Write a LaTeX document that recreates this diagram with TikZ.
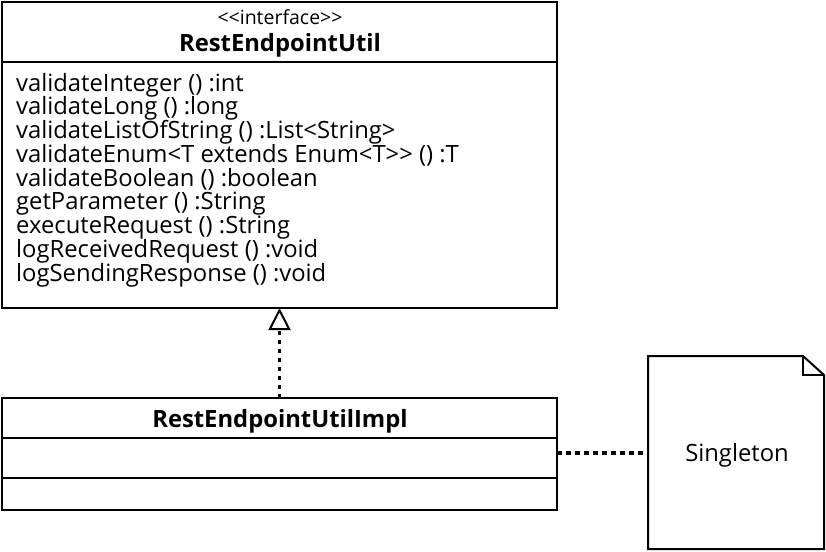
\documentclass[tikz,border=0pt]{standalone}
\usepackage{fontspec}
\setmainfont{Open Sans}
\usetikzlibrary{arrows.meta}
\begin{document}
\begin{tikzpicture}[x=1pt,y=-1pt,
  umlbox/.style={draw,line width=2pt,rectangle,inner sep=0pt,outer sep=0pt,anchor=north west},
  divider/.style={line width=2pt},
  methodtext/.style={anchor=base west,inner sep=0pt,font=\fontsize{23.8}{24}\selectfont},
  titletext/.style={anchor=base,inner sep=0pt,font=\bfseries\fontsize{23.8}{24}\selectfont},
  stereotext/.style={anchor=base,inner sep=0pt,font=\fontsize{19.5}{20}\selectfont},
  dotline/.style={line width=3.5pt,dash pattern=on 4.5pt off 4.5pt}]
\useasboundingbox (0,0) rectangle (826,551);
% interface box
\node[umlbox,minimum width=555pt,minimum height=306pt] (iface) at (2,2) {};
\coordinate (ifdiv) at (2,62);
\draw[divider] (ifdiv) -- (ifdiv -| iface.east);
\node[stereotext] (stereo) at (280,25) {<{}<interface>{}>};
\node[titletext] (ititle) at (280,52) {RestEndpointUtil};
\foreach \t [count=\i] in {validateInteger () :int,validateLong () :long,validateListOfString () :List<String>,validateEnum<T extends Enum<T>{}> () :T,validateBoolean () :boolean,getParameter () :String,executeRequest () :String,logReceivedRequest () :void,logSendingResponse () :void}
  \node[methodtext] (m\i) at (16,{91+23.75*(\i-1)}) {\t};
% implementation box
\node[umlbox,minimum width=555pt,minimum height=112pt] (impl) at (2,398) {};
\coordinate (imdivA) at (2,438);
\coordinate (imdivB) at (2,478);
\draw[divider] (imdivA) -- (imdivA -| impl.east);
\draw[divider] (imdivB) -- (imdivB -| impl.east);
\node[titletext] (ptitle) at (280,427) {RestEndpointUtilImpl};
% note
\node[inner sep=0pt,outer sep=0pt,minimum width=176pt,minimum height=193pt,anchor=north west] (note) at (648,356) {};
\draw[line width=2pt,line join=miter]
  (note.south west) -- (note.north west) -- ([xshift=-21pt]note.north east)
  -- ([yshift=-19pt]note.north east) -- (note.south east) -- cycle;
\draw[line width=2pt]
  ([xshift=-21pt]note.north east) -- ([xshift=-21pt,yshift=-19pt]note.north east)
  -- ([yshift=-19pt]note.north east);
\node[anchor=base,inner sep=0pt,font=\fontsize{23.8}{24}\selectfont] (ntext) at (737,461) {Singleton};
% connectors
\draw[dotline,-{Triangle[open,length=22pt,width=22pt,line width=2pt]}] (impl.north -| iface.south) -- (iface.south);
\draw[dotline] (impl.east |- 0,453) -- (note.west |- 0,453);
\end{tikzpicture}
\end{document}
